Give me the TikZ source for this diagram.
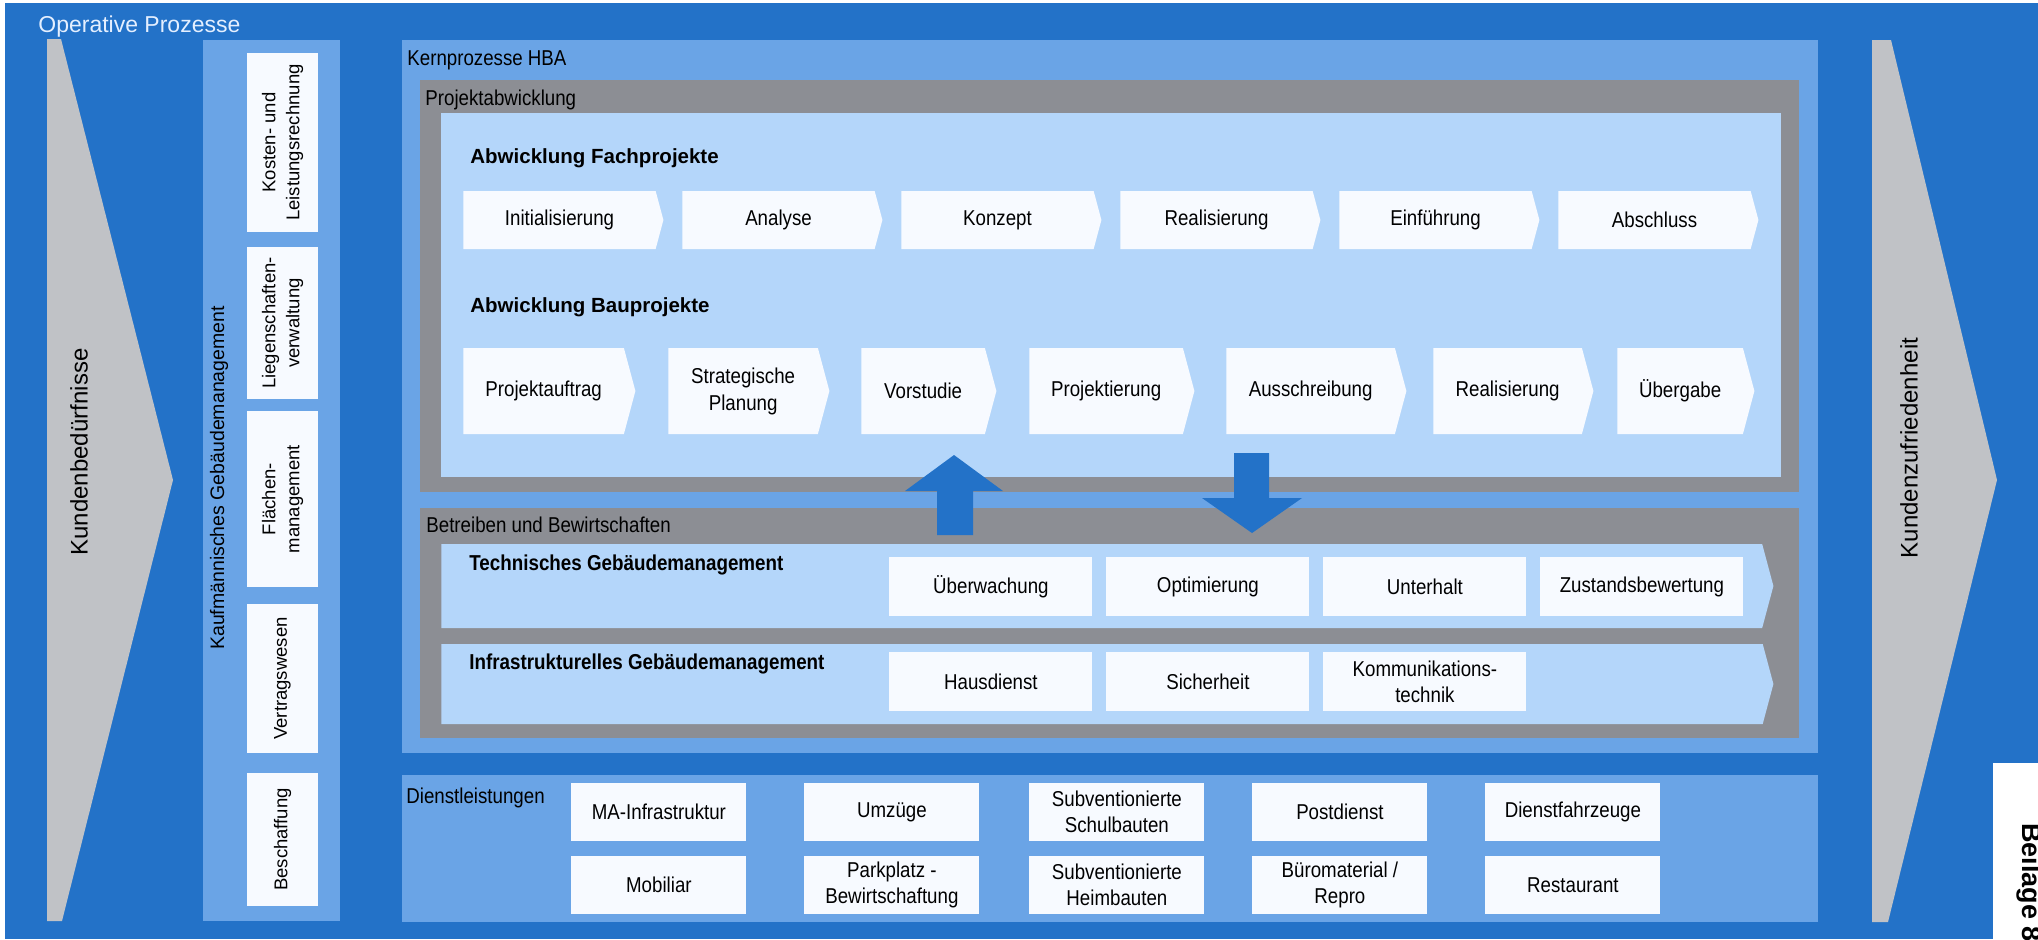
\documentclass[tikz,border=0pt]{standalone}
\usepackage{fontspec}
\setmainfont{Liberation Sans}
\newfontfamily\narrow[FakeStretch=0.87]{Liberation Sans}
\usetikzlibrary{shapes.symbols, positioning}

\definecolor{bgblue}{HTML}{2372C8}
\definecolor{midblue}{HTML}{6AA4E6}
\definecolor{lightblue}{HTML}{B4D6FA}
\definecolor{framegray}{HTML}{8C8E94}
\definecolor{chevgray}{HTML}{C0C2C6}
\definecolor{boxwhite}{HTML}{F7FAFF}
\definecolor{txtlight}{HTML}{E4EFFF}

\tikzset{
	wh/.style 2 args={minimum width=#1*0.5pt, minimum height=#2*0.5pt},
	chev/.style={signal, signal to=east, signal pointer angle=150, fill=boxwhite,
		inner sep=1pt, anchor=west, align=center,
		font=\narrow\fontsize{10.75}{13.5}\selectfont},
	task/.style={rectangle, fill=boxwhite, inner sep=1pt, anchor=west, align=center,
		font=\narrow\fontsize{10.75}{13}\selectfont},
	vtask/.style={rectangle, fill=boxwhite, inner sep=1pt, rotate=90, align=center,
		font=\fontsize{9.25}{12}\selectfont},
	band/.style={signal, signal to=east, signal pointer angle=150, fill=lightblue,
		inner sep=0pt, anchor=west},
	seclabel/.style={anchor=base west, inner sep=0pt, font=\narrow\fontsize{10.75}{13}\selectfont},
	heading/.style={anchor=base west, inner sep=0pt, font=\bfseries\fontsize{10.25}{12}\selectfont},
	nheading/.style={heading, font=\narrow\bfseries\fontsize{10.8}{13}\selectfont},
	sidetext/.style={rotate=90, inner sep=0pt, font=\fontsize{12}{14}\selectfont},
	chevron/.style={fill=chevgray},
	blockarrow/.style={fill=bgblue},
}

\begin{document}
\begin{tikzpicture}[x=0.5pt, y=-0.5pt]
	\useasboundingbox (0,0) rectangle (2038,939);
	\clip (0,0) rectangle (2038,939);
	\fill[white] (0,0) rectangle (2038,939);
	\fill[bgblue] (5,3) rectangle (2038,939);
	
	% Kundenbeduerfnisse / Kundenzufriedenheit
	\fill[chevron] (47,39) -- (61,39) -- (173,480) -- (62,921) -- (47,921) -- cycle;
	\fill[chevron] (1872,40) -- (1891,40) -- (1997,480) -- (1888,922) -- (1872,922) -- cycle;
	\node[sidetext] (needs) at (79,452) {Kundenbedürfnisse};
	\node[sidetext] (satisf) at (1909,448) {Kundenzufriedenheit};
	\node[seclabel, text=txtlight, font=\fontsize{11.5}{13}\selectfont] (oplbl) at (38,32) {Operative Prozesse};
	
	% panels
	\fill[midblue] (203,40) rectangle (340,921);
	\fill[midblue] (402,40) rectangle (1818,753);
	\fill[midblue] (402,775) rectangle (1818,922);
	\fill[framegray] (420,80) rectangle (1799,492);
	\fill[lightblue] (441,113) rectangle (1781,477);
	\fill[framegray] (420,508) rectangle (1799,738);
	
	% Kaufmaennisches Gebaeudemanagement
	\node[sidetext, font=\fontsize{9.75}{11}\selectfont] (kaufm) at (219,478) {Kaufmännisches Gebäudemanagement};
	\node[vtask, wh={179}{71}] (k1) at (282.5,142.5) {Kosten- und\\Leistungsrechnung};
	\node[vtask, wh={152}{71}] (k2) at (282.5,323) {Liegenschaften-\\verwaltung};
	\node[vtask, wh={176}{71}] (k3) at (282.5,499) {Flächen-\\management};
	\node[vtask, wh={149}{71}] (k4) at (282.5,678.5) {Vertragswesen};
	\node[vtask, wh={133}{71}] (k5) at (282.5,839.5) {Beschaffung};
	
	% Kernprozesse
	\node[seclabel] (kernlbl) at (407,65) {Kernprozesse HBA};
	\node[seclabel] (projlbl) at (425,105) {Projektabwicklung};
	\node[heading] (fachlbl) at (470,163) {Abwicklung Fachprojekte};
	\node[heading] (baulbl) at (470,312) {Abwicklung Bauprojekte};
	
	\foreach \x/\t [count=\i] in {463/Initialisierung, 682/Analyse, 901/Konzept,
		1120/Realisierung, 1339/Einführung, 1558/Abschluss}
		\node[chev, wh={200}{58}] (f\i) at (\x,220) {\t};
	
	\foreach \x/\w/\t [count=\i] in {463/172/Projektauftrag, 668/161/{Strategische\\Planung},
		861/135/Vorstudie, 1029/165/Projektierung, 1226/180/Ausschreibung,
		1433/160/Realisierung, 1617/137/Übergabe}
		\node[chev, wh={\w}{86}] (b\i) at (\x,391) {\t};
	
	% Betreiben und Bewirtschaften
	\node[seclabel] (betrlbl) at (426,532) {Betreiben und Bewirtschaften};
	\node[band, wh={1332}{84}] (tgm) at (441,586) {};
	\node[band, wh={1332}{80}] (igm) at (441,684) {};
	\node[nheading] (tgmlbl) at (469,570.5) {Technisches Gebäudemanagement};
	\node[nheading] (igmlbl) at (469,669.5) {Infrastrukturelles Gebäudemanagement};
	
	\foreach \x/\t [count=\i] in {889/Überwachung, 1106/Optimierung, 1323/Unterhalt,
		1540/Zustandsbewertung}
		\node[task, wh={203}{59}] (t\i) at (\x,586.5) {\t};
	\foreach \x/\t [count=\i] in {889/Hausdienst, 1106/Sicherheit,
		1323/{Kommunikations-\\technik}}
		\node[task, wh={203}{59}] (i\i) at (\x,681.5) {\t};
	
	% Austausch Projektabwicklung / Betrieb
	\fill[blockarrow] (937,535) -- (937,491) -- (905,491) -- (954,455) -- (1003,491)
		-- (973,491) -- (973,535) -- cycle;
	\fill[blockarrow] (1234,453) -- (1269,453) -- (1269,498) -- (1302,498) -- (1252,533)
		-- (1202,498) -- (1234,498) -- cycle;
	
	% Dienstleistungen
	\node[seclabel] (dienstlbl) at (406,803) {Dienstleistungen};
	\foreach \x/\t [count=\i] in {571/MA-Infrastruktur, 804/Umzüge,
		1029/{Subventionierte\\Schulbauten}, 1252/Postdienst, 1485/Dienstfahrzeuge}
		\node[task, wh={175}{58}] (d\i) at (\x,812) {\t};
	\foreach \x/\t [count=\i] in {571/Mobiliar, 804/{Parkplatz -\\Bewirtschaftung},
		1029/{Subventionierte\\Heimbauten}, 1252/{Büromaterial /\\Repro}, 1485/Restaurant}
		\node[task, wh={175}{58}] (e\i) at (\x,885) {\t};
	
	% Beilage
	\fill[white] (1993,763) rectangle (2038,939);
	\node[rotate=-90, anchor=base west, inner sep=0pt, font=\bfseries\fontsize{13.5}{15}\selectfont] (beilage) at (2022,823) {Beilage 8};
\end{tikzpicture}
\end{document}
